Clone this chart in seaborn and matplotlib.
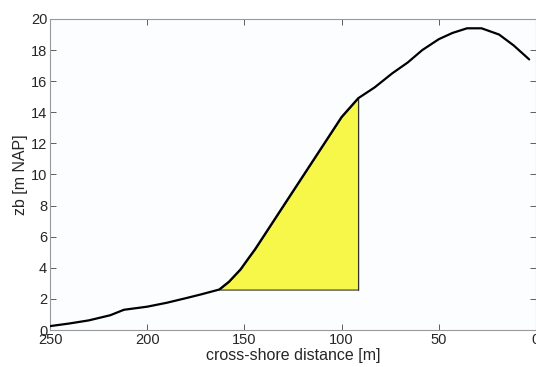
import numpy as np
import pandas as pd
import seaborn as sns
import matplotlib
matplotlib.use("Agg")
import matplotlib.pyplot as plt

# cross-shore profile
dist = [250, 240, 230, 219, 212, 200, 190, 180, 172, 163, 158, 152, 148, 144.5,
        122, 100, 91.5, 83, 74, 66, 58.5, 50, 43, 35.5, 28, 19, 11.5, 3.5]
zb = [0.25, 0.42, 0.62, 0.95, 1.3, 1.5, 1.75, 2.05, 2.3, 2.6, 3.1, 3.9, 4.6, 5.2,
      9.5, 13.7, 14.9, 15.6, 16.5, 17.2, 18.0, 18.7, 19.1, 19.4, 19.4, 19.0, 18.3, 17.4]

# yellow volume: between these distances, above this level
fill_from = 163
fill_to = 91.5
fill_level = 2.6

df = pd.DataFrame({"dist": dist, "zb": zb})
sub = df[(df["dist"] <= fill_from) & (df["dist"] >= fill_to)]

sns.set_style("ticks")
plt.rcParams["font.family"] = ["Liberation Sans", "DejaVu Sans"]

fig = plt.figure(figsize=(5.36, 3.67), dpi=100)
ax = fig.add_axes([0.0933, 0.1008, 0.9067, 0.8475])
ax.set_facecolor("#fbfdfe")

ax.fill_between(sub["dist"], sub["zb"], fill_level, color="#f7f74a",
                edgecolor="#333333", linewidth=0.8, zorder=2)
ax.plot([fill_to, fill_to], [fill_level, sub["zb"].iloc[-1]], color="#333333", lw=0.8, zorder=2)

sns.lineplot(data=df, x="dist", y="zb", sort=False, estimator=None,
             color="black", linewidth=1.6, ax=ax, zorder=3)

ax.set_xlim(250, 0)
ax.set_ylim(0, 20)
ax.set_xticks([250, 200, 150, 100, 50, 0])
ax.set_yticks(range(0, 21, 2))
ax.tick_params(direction="in", top=True, right=True, labelsize=10.5,
               length=4, width=0.6, color="#444444", pad=2)
for s in ax.spines.values():
    s.set_color("#999999")
    s.set_linewidth(0.8)
ax.set_xlabel("cross-shore distance [m]", fontsize=11.5, labelpad=1)
ax.set_ylabel("zb [m NAP]", fontsize=11.5, labelpad=2)

fig.savefig("out.png", dpi=100)
